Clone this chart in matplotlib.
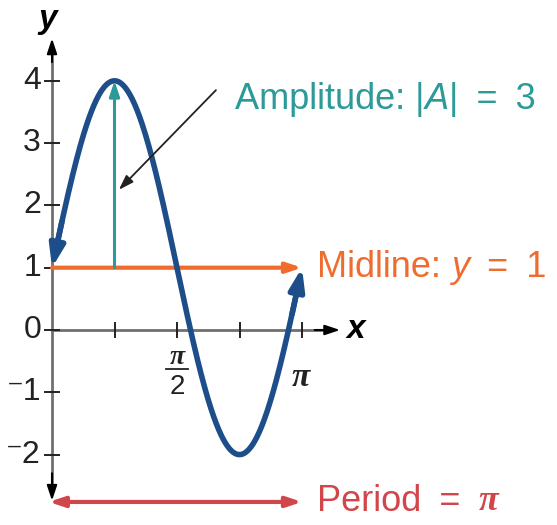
import numpy as np
import matplotlib.pyplot as plt

# values
amplitude = 3
midline = 1
period = np.pi
y_ticks = [-2, -1, 0, 1, 2, 3, 4]
y_tick_labels = ['\u207b2', '\u207b1', '0', '1', '2', '3', '4']
x_ticks = [np.pi / 4, np.pi / 2, 3 * np.pi / 4, np.pi]

BLUE = '#1d4e89'
TEAL = '#2b9a98'
ORANGE = '#ef6c2e'
RED = '#d0464a'
GRAY = '#707070'
INK = '#222222'

plt.rcParams['font.family'] = ['Liberation Sans', 'DejaVu Sans']

fig = plt.figure(figsize=(5.57, 5.25), dpi=100)
ax = fig.add_axes([0, 0, 1, 1])
sx = 250 / np.pi   # px per unit x
sy = 62.3          # px per unit y
ax.set_xlim(-52 / sx, (557 - 52) / sx)
ax.set_ylim(-(525 - 330) / sy, 330 / sy)
ax.axis('off')


def chain(parts, x, y, size, color):
    # parts: list of (text, style) drawn one after another
    prev = None
    for s, st in parts:
        kw = dict(fontsize=size, color=color, va='center', ha='left')
        if st == 'i':
            kw.update(style='italic')
        elif st == 'pi':
            kw.update(style='italic', fontweight='bold', family='Liberation Serif')
        if prev is None:
            prev = ax.text(x, y, s, **kw)
        else:
            prev = ax.annotate(s, xy=(1, 0.5), xycoords=prev, **kw)
    return prev


SP = '\u2002'  # en space, wider gaps around '=' as in the picture

# axes
ax.plot([0, 0], [-2.45, 4.45], color=GRAY, lw=2, zorder=1)
ax.plot([0, 3.45], [0, 0], color=GRAY, lw=2, zorder=1)
head = dict(arrowstyle='-|>,head_length=0.9,head_width=0.3', color='black', lw=1.5, shrinkA=0, shrinkB=0)
ax.annotate('', xy=(0, 4.68), xytext=(0, 4.3), arrowprops=head)
ax.annotate('', xy=(0, -2.74), xytext=(0, -2.3), arrowprops=head)
ax.annotate('', xy=(3.62, 0), xytext=(3.3, 0), arrowprops=head)
ax.text(3.7, 0, 'x', fontsize=24, fontweight='bold', style='italic', ha='left', va='center')
ax.text(-0.06, 4.98, 'y', fontsize=24, fontweight='bold', style='italic', ha='center', va='center')

# ticks
for yt, lab in zip(y_ticks, y_tick_labels):
    ax.plot([-7 / sx, 7 / sx], [yt, yt], color=INK, lw=1.4, zorder=1)
    ax.text(-11 / sx, yt, lab, fontsize=23, ha='right', va='center', color=INK)
for xt in x_ticks:
    ax.plot([xt, xt], [-7 / sy, 7 / sy], color=INK, lw=1.4, zorder=1)
xh = x_ticks[1]
ax.text(xh, -0.44, '\u03c0', fontsize=20, fontweight='bold', style='italic',
        family='Liberation Serif', ha='center', va='center', color=INK)
ax.plot([xh - 11 / sx, xh + 11 / sx], [-0.63, -0.63], color=INK, lw=1.3)
ax.text(xh, -0.92, '2', fontsize=20, ha='center', va='center', color=INK)
ax.text(np.pi - 0.02, -0.77, '\u03c0', fontsize=24, fontweight='bold', style='italic',
        family='Liberation Serif', ha='center', va='center', color=INK)

# curve y = A sin(2x) + D
xs = np.linspace(0, period, 400)
ys = amplitude * np.sin(2 * np.pi / period * xs) + midline
ax.plot(xs[6:-6], ys[6:-6], color=BLUE, lw=4, solid_capstyle='butt', zorder=3)
arrow_kw = dict(arrowstyle='-|>,head_length=1.3,head_width=0.45', color=BLUE, lw=4,
                shrinkA=0, shrinkB=0)
ax.annotate('', xy=(xs[0], ys[0]), xytext=(xs[16], ys[16]), arrowprops=arrow_kw, zorder=3)
ax.annotate('', xy=(xs[-1], ys[-1]), xytext=(xs[-17], ys[-17]), arrowprops=arrow_kw, zorder=3)

# midline
ax.annotate('', xy=(period, midline), xytext=(0, midline),
            arrowprops=dict(arrowstyle='-|>,head_length=0.9,head_width=0.3', color=ORANGE, lw=3,
                            shrinkA=0, shrinkB=0), zorder=2)
chain([('Midline: ', ''), ('y', 'i'), (SP + '=' + SP + '1', '')], 3.33, midline, 26, ORANGE)

# amplitude
ax.annotate('', xy=(np.pi / 4, midline + amplitude), xytext=(np.pi / 4, midline),
            arrowprops=dict(arrowstyle='-|>,head_length=0.9,head_width=0.3', color=TEAL, lw=2.2,
                            shrinkA=0, shrinkB=0), zorder=2)
chain([('Amplitude: |', ''), ('A', 'i'), ('|' + SP + '=' + SP + '3', '')], 2.3, 3.7, 26, TEAL)
ax.annotate('', xy=(0.84, 2.25), xytext=(2.06, 3.85),
            arrowprops=dict(arrowstyle='-|>,head_length=0.9,head_width=0.3', color=INK, lw=1.3,
                            shrinkA=0, shrinkB=0), zorder=4)

# period
ax.annotate('', xy=(period, -2.76), xytext=(-0.04, -2.76),
            arrowprops=dict(arrowstyle='<|-|>,head_length=0.9,head_width=0.3', color=RED, lw=3,
                            shrinkA=0, shrinkB=0))
chain([('Period' + SP + '=' + SP, ''), ('\u03c0', 'pi')], 3.33, -2.76, 26, RED)

fig.savefig('out.png', dpi=100)
